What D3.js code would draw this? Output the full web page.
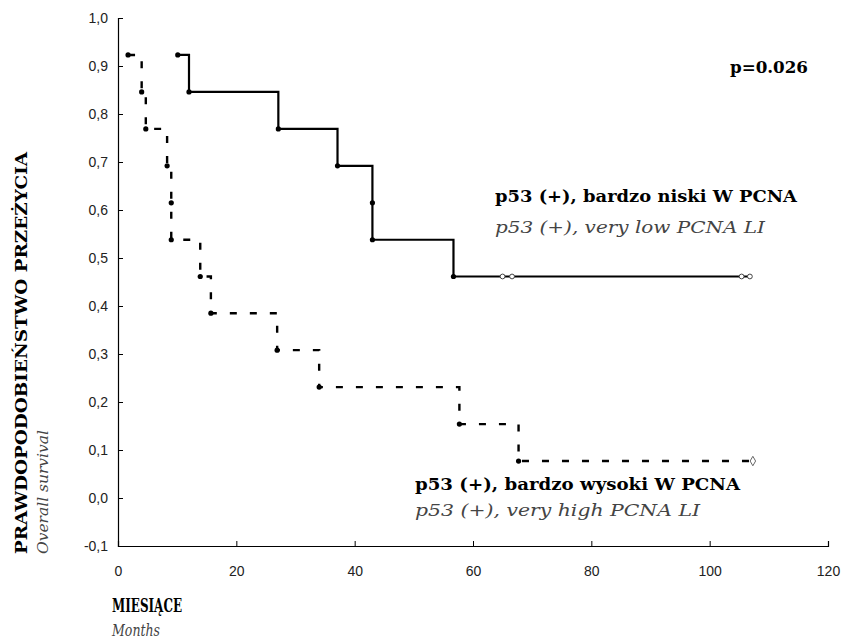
<!DOCTYPE html>
<html>
<head>
<meta charset="utf-8">
<script src="https://cdn.jsdelivr.net/npm/d3@7"></script>
<style>
  html, body { margin: 0; padding: 0; background: #fff; }
  svg { display: block; }
</style>
</head>
<body>
<svg id="chart" width="854" height="639"></svg>
<script>
// Kaplan–Meier overall survival, p53(+) patients split by PCNA LI
const xTicks = [0, 20, 40, 60, 80, 100, 120];
const yTicks = [-0.1, 0.0, 0.1, 0.2, 0.3, 0.4, 0.5, 0.6, 0.7, 0.8, 0.9, 1.0];

// very low PCNA LI: event times (months) and survival after each event
const lowTimes    = [10.1, 12.0, 27.1, 37.1, 43.0, 43.0, 56.7];
const lowSurv     = [0.923, 0.846, 0.769, 0.692, 0.615, 0.538, 0.4615];
const lowCensTime = [65.0, 66.6, 105.4, 106.8];

// very high PCNA LI
const highTimes    = [1.7, 4.0, 4.7, 8.3, 9.0, 9.0, 13.9, 15.7, 26.9, 34.0, 57.7, 67.7];
const highSurv     = [0.923, 0.846, 0.769, 0.692, 0.615, 0.538, 0.4615, 0.385, 0.308, 0.231, 0.154, 0.077];
const highCensTime = [107.3];

const svg = d3.select("#chart");
const x = d3.scaleLinear().domain([0, 120]).range([118, 828]);
const y = d3.scaleLinear().domain([-0.1, 1.0]).range([546, 18]);

const fmt = v => d3.format(".1f")(v).replace(".", ",").replace("−", "-");

// axes with inward ticks
const yAxis = d3.axisLeft(y).tickValues(yTicks).tickSize(-5).tickPadding(10).tickFormat(fmt);
const xAxis = d3.axisBottom(x).tickValues(xTicks).tickSize(-5).tickPadding(20).tickFormat(d3.format("d"));

const gy = svg.append("g").attr("transform", `translate(${x(0)},0)`).call(yAxis);
const gx = svg.append("g").attr("transform", `translate(0,${y(-0.1)})`).call(xAxis);
[gx, gy].forEach(g => {
  g.select(".domain").attr("stroke", "#000").attr("stroke-width", 1.2);
  g.selectAll(".tick line").attr("stroke", "#000");
  g.selectAll(".tick text")
    .attr("fill", "#222")
    .attr("font-family", "Liberation Sans, Arial, sans-serif")
    .attr("font-size", 14);
});

function stepPoints(times, surv, endTime) {
  const pts = times.map((t, i) => [t, surv[i]]);
  pts.push([endTime, surv[surv.length - 1]]);
  return pts;
}
const line = d3.line().x(d => x(d[0])).y(d => y(d[1])).curve(d3.curveStepAfter);

// very low PCNA: solid
svg.append("path")
  .attr("d", line(stepPoints(lowTimes, lowSurv, d3.max(lowCensTime))))
  .attr("fill", "none").attr("stroke", "#000").attr("stroke-width", 2.2);

// very high PCNA: dashed
svg.append("path")
  .attr("d", line(stepPoints(highTimes, highSurv, d3.max(highCensTime))))
  .attr("fill", "none").attr("stroke", "#000").attr("stroke-width", 2.4)
  .attr("stroke-dasharray", "7,13");

// event markers
const events = lowTimes.map((t, i) => [t, lowSurv[i]])
  .concat(highTimes.map((t, i) => [t, highSurv[i]]));
svg.append("g").selectAll("circle").data(events).join("circle")
  .attr("cx", d => x(d[0])).attr("cy", d => y(d[1])).attr("r", 2.6)
  .attr("fill", "#000");

// censored markers: circles (low), diamond (high)
svg.append("g").selectAll("circle")
  .data(lowCensTime.map(t => [t, lowSurv[lowSurv.length - 1]])).join("circle")
  .attr("cx", d => x(d[0])).attr("cy", d => y(d[1])).attr("r", 2.4)
  .attr("fill", "#fff").attr("stroke", "#444").attr("stroke-width", 1);
svg.append("g").selectAll("path")
  .data(highCensTime.map(t => [t, highSurv[highSurv.length - 1]])).join("path")
  .attr("d", d3.symbol(d3.symbolDiamond, 26))
  .attr("transform", d => `translate(${x(d[0])},${y(d[1])})`)
  .attr("fill", "#fff").attr("stroke", "#666").attr("stroke-width", 1);

// text
const serif = "DejaVu Serif, serif";
function txt(s, px, py, len, opts = {}) {
  return svg.append("text").attr("x", px).attr("y", py).text(s)
    .attr("font-family", serif)
    .attr("font-size", opts.size || 16)
    .attr("font-weight", opts.bold ? "bold" : "normal")
    .attr("font-style", opts.italic ? "italic" : "normal")
    .attr("fill", opts.fill || "#000")
    .attr("textLength", len)
    .attr("lengthAdjust", "spacingAndGlyphs")
    .attr("transform", opts.rotate ? `rotate(-90,${px},${py})` : null);
}
txt("p=0.026", 730, 73, 78, { bold: true, size: 16 });
txt("p53 (+), bardzo niski W PCNA", 495, 202, 302, { bold: true, size: 17 });
txt("p53 (+), very low PCNA LI", 495, 233, 270, { italic: true, size: 17, fill: "#444" });
txt("p53 (+), bardzo wysoki W PCNA", 415, 490, 325, { bold: true, size: 17 });
txt("p53 (+), very high PCNA LI", 415, 516, 285, { italic: true, size: 17, fill: "#444" });

txt("PRAWDOPODOBIEŃSTWO PRZEŻYCIA", 27, 554, 402, { bold: true, size: 17, rotate: true });
txt("Overall survival", 48, 554, 124, { italic: true, size: 15, fill: "#444", rotate: true });

txt("MIESIĄCE", 112, 612, 70, { bold: true, size: 18 });
txt("Months", 112, 636, 48, { italic: true, size: 16, fill: "#444" });
</script>
</body>
</html>
